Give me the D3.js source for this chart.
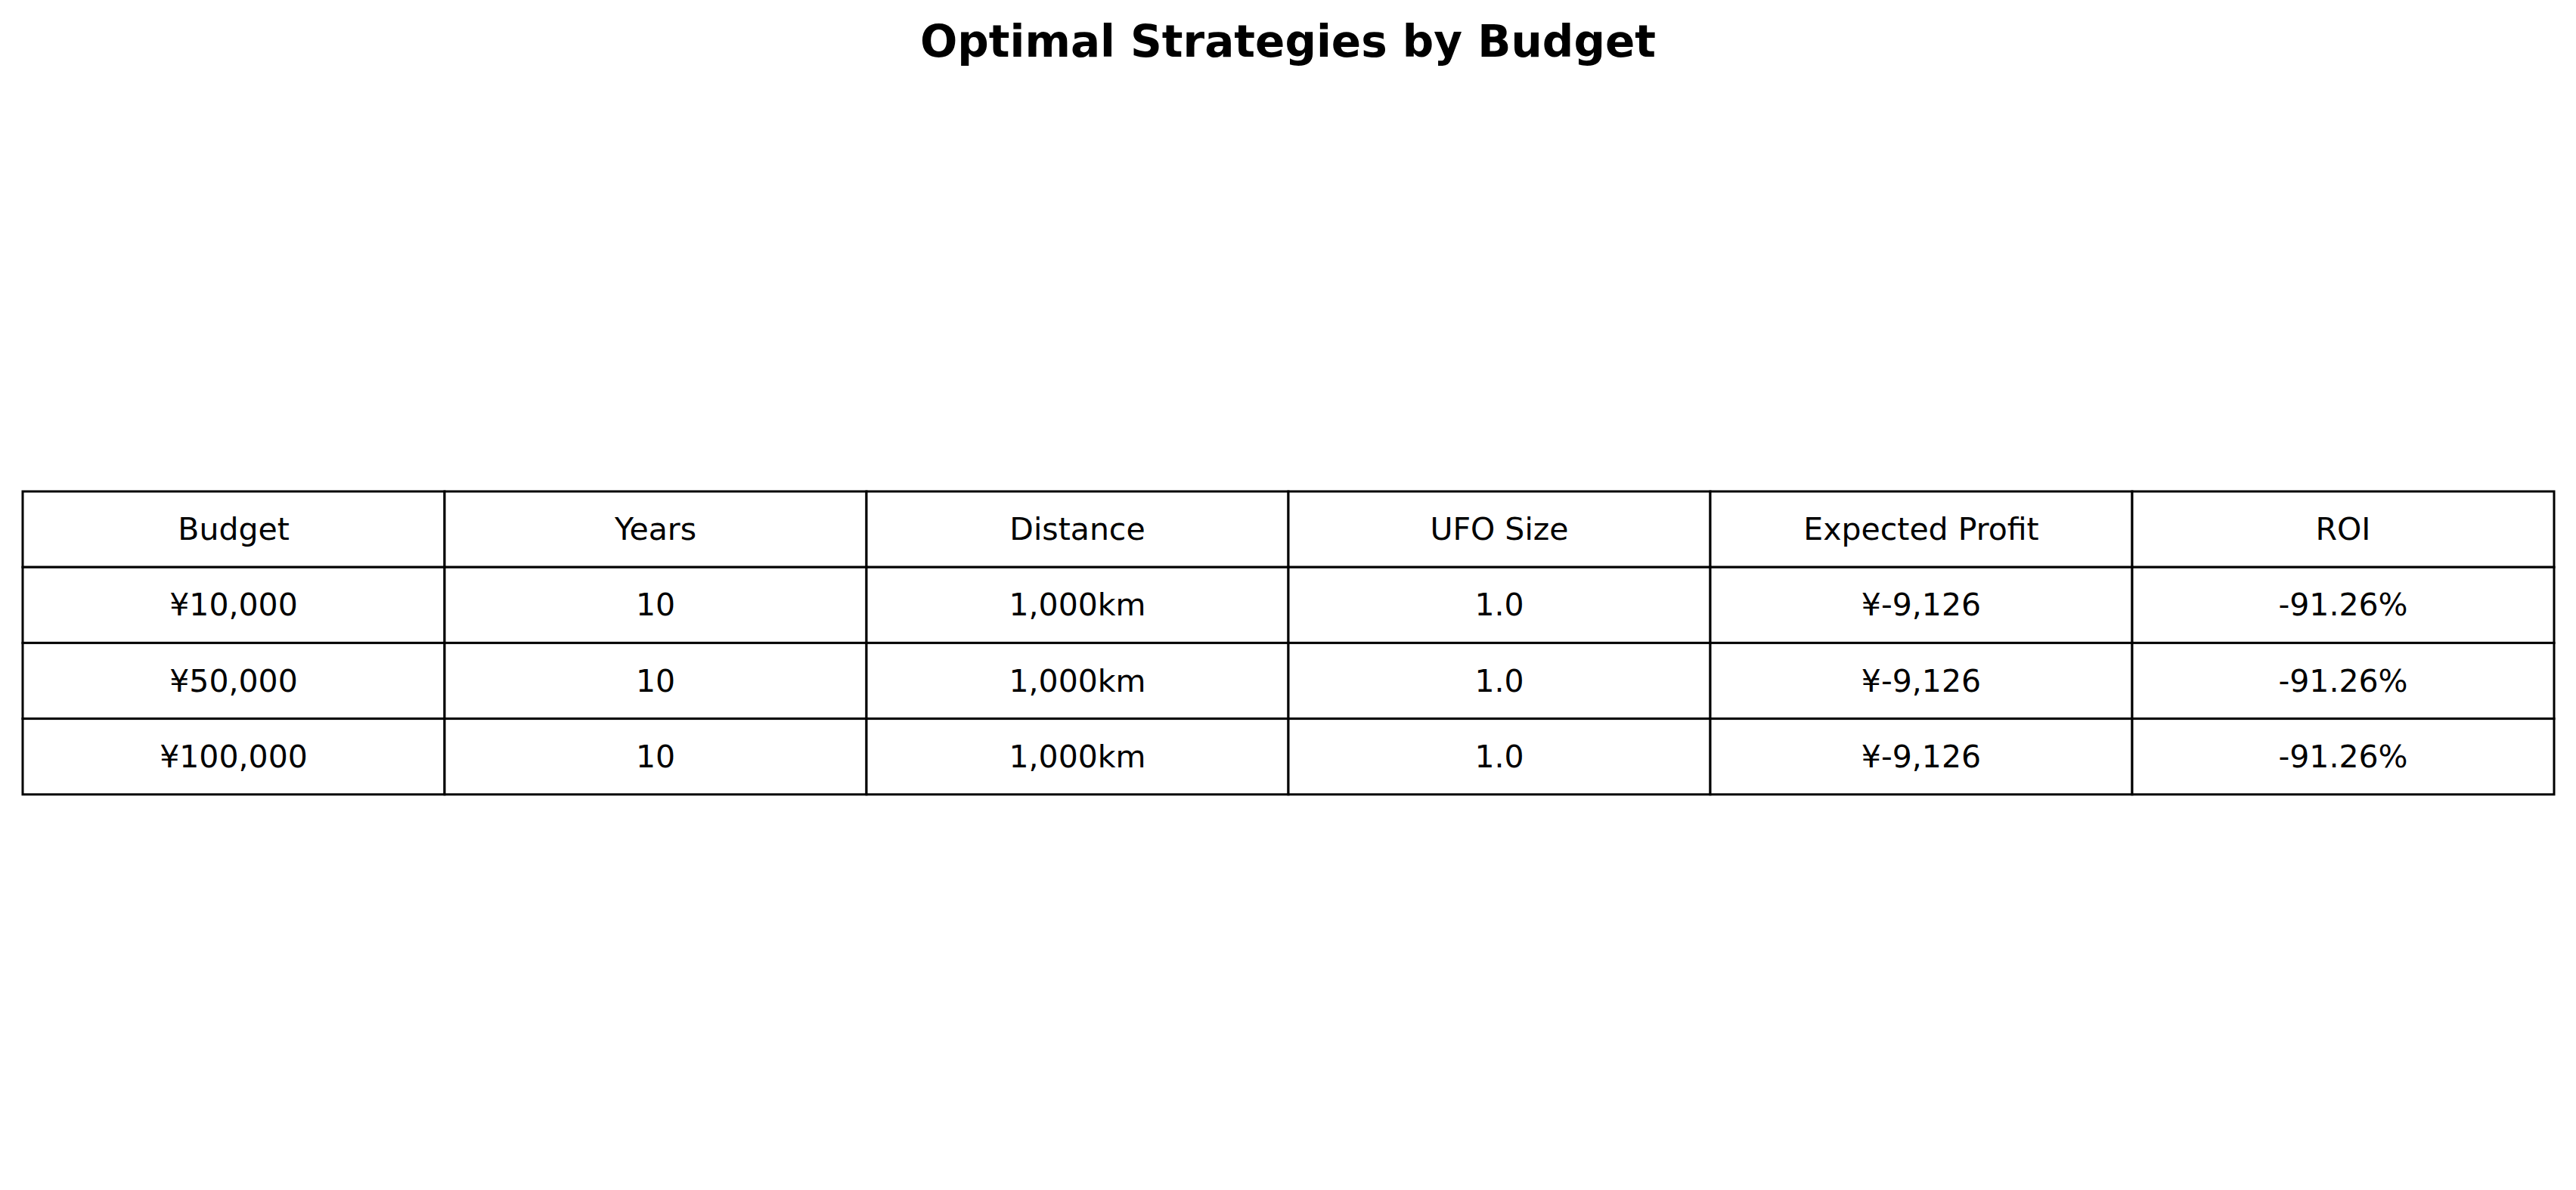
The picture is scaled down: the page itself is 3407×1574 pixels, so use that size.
<!DOCTYPE html>
<html>
<head>
<meta charset="utf-8">
<script src="https://cdn.jsdelivr.net/npm/d3@7"></script>
<style>
  html, body { margin: 0; padding: 0; background: #fff; }
  svg { display: block; }
</style>
</head>
<body>
<svg id="chart"></svg>
<script>
// table content
const columns = ['Budget', 'Years', 'Distance', 'UFO Size', 'Expected Profit', 'ROI'];
const budgets = ['¥10,000', '¥50,000', '¥100,000'];
const years = ['10', '10', '10'];
const distances = ['1,000km', '1,000km', '1,000km'];
const ufoSizes = ['1.0', '1.0', '1.0'];
const profits = ['¥-9,126', '¥-9,126', '¥-9,126'];
const rois = ['-91.26%', '-91.26%', '-91.26%'];

const width = 3407, height = 1574;
const tableLeft = 30, tableRight = 3378, tableTop = 650, rowH = 100.2;

const rows = [columns].concat(budgets.map((b, i) =>
    [b, years[i], distances[i], ufoSizes[i], profits[i], rois[i]]));

const svg = d3.select('#chart')
    .attr('width', width)
    .attr('height', height);

svg.append('text')
    .attr('x', width / 2)
    .attr('y', 75)
    .attr('text-anchor', 'middle')
    .style('font-family', 'DejaVu Sans')
    .style('font-weight', 'bold')
    .style('font-size', '58px')
    .text('Optimal Strategies by Budget');

const x = d3.scaleBand()
    .domain(d3.range(columns.length))
    .range([tableLeft, tableRight]);

const y = d3.scaleBand()
    .domain(d3.range(rows.length))
    .range([tableTop, tableTop + rowH * rows.length]);

const cells = svg.append('g')
    .selectAll('g')
    .data(rows.flatMap((r, ri) => r.map((v, ci) => ({ v, ri, ci }))))
    .join('g');

cells.append('rect')
    .attr('x', d => x(d.ci))
    .attr('y', d => y(d.ri))
    .attr('width', x.bandwidth())
    .attr('height', y.bandwidth())
    .attr('fill', '#fff')
    .attr('stroke', '#000')
    .attr('stroke-width', 3);

cells.append('text')
    .attr('x', d => x(d.ci) + x.bandwidth() / 2)
    .attr('y', d => y(d.ri) + y.bandwidth() / 2 + 14)
    .attr('text-anchor', 'middle')
    .style('font-family', 'DejaVu Sans')
    .style('font-size', '41px')
    .text(d => d.v);
</script>
</body>
</html>
